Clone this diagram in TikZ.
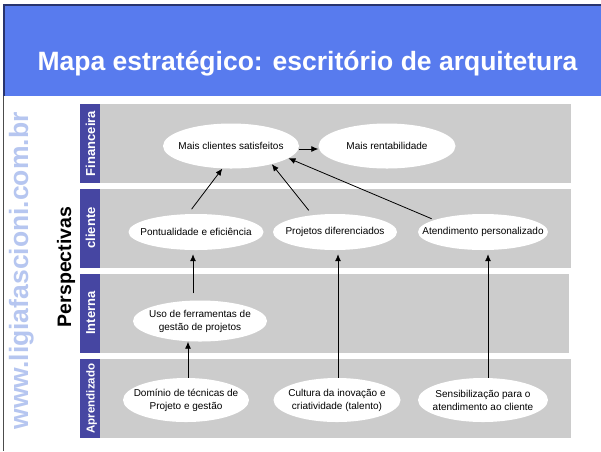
\documentclass[tikz,border=0pt]{standalone}
\usepackage{fontspec}
\setmainfont{Liberation Sans}
\usetikzlibrary{shapes.geometric,arrows.meta}
\definecolor{hdr}{RGB}{88,123,238}
\definecolor{hdrdark}{RGB}{40,52,110}
\definecolor{stripc}{RGB}{70,70,162}
\definecolor{bandc}{RGB}{204,204,204}
\definecolor{wmc}{RGB}{182,198,240}
\begin{document}
\begin{tikzpicture}[x=1pt,y=-1pt,
  goal/.style={ellipse,fill=white,inner sep=0pt},
  goaltxt/.style={align=center,inner sep=0pt,font=\fontsize{10}{13}\selectfont},
  arr/.style={-{Latex[length=7pt,width=6pt]},line width=0.8pt,black},
  bandlab/.style={rotate=90,anchor=base,text=white,font=\fontsize{13}{15}\selectfont\bfseries}
]
\useasboundingbox (0,0) rectangle (601,451);
\fill[white] (0,0) rectangle (601,451);
% header
\fill[hdr] (3.5,4.5) rectangle (601,96);
\draw[hdrdark,line width=2pt] (3.5,96) -- (3.5,4.5) -- (601,4.5);
\draw[gray!60!black,line width=1pt] (3.5,96) -- (3.5,451);
\node[anchor=base,text=white,font=\fontsize{26.5}{30}\selectfont\bfseries] (title) at (307.5,70) {Mapa estratégico: escritório de arquitetura};
% watermark and axis label
\node[rotate=90,anchor=base,text=wmc,font=\fontsize{26.5}{30}\selectfont\bfseries] (wm) at (28,271) {www.ligiafascioni.com.br};
\node[rotate=90,anchor=base,font=\fontsize{19.5}{22}\selectfont\bfseries] (persp) at (71,267) {Perspectivas};
% bands
\fill[bandc] (100,103.5) rectangle (571,183);
\fill[bandc] (100,188.5) rectangle (571,268);
\fill[bandc] (100,273.5) rectangle (569,353);
\fill[bandc] (100,359) rectangle (571,438);
\fill[stripc] (80,103.5) rectangle (100,183);
\fill[stripc] (80,188.5) rectangle (100,268);
\fill[stripc] (80,273.5) rectangle (100,353);
\fill[stripc] (80,359) rectangle (100,438);
\node[bandlab] (lfin) at (95,143.5) {Financeira};
\node[bandlab] (lcli) at (95,228) {cliente};
\node[bandlab] (lint) at (95,313) {Interna};
\node[bandlab,font=\fontsize{11.5}{13}\selectfont\bfseries] (lapr) at (94.5,398.5) {Aprendizado};
% goals
\node[goal,minimum width=136pt,minimum height=45pt,label={[goaltxt]center:Mais clientes satisfeitos}] (sat) at (231,146) {};
\node[goal,minimum width=137pt,minimum height=45pt,label={[goaltxt]center:Mais rentabilidade}] (rent) at (387,146) {};
\node[goal,minimum width=135pt,minimum height=36pt,label={[goaltxt]center:Pontualidade e eficiência}] (pont) at (196,232) {};
\node[goal,minimum width=124pt,minimum height=36pt,label={[goaltxt]center:Projetos diferenciados}] (proj) at (335,232) {};
\node[goal,minimum width=130pt,minimum height=36pt,label={[goaltxt]center:Atendimento personalizado}] (aten) at (483,232) {};
\node[goal,minimum width=134pt,minimum height=41pt,label={[goaltxt]center:Uso de ferramentas de\\gestão de projetos}] (uso) at (200,321) {};
\node[goal,minimum width=126pt,minimum height=44pt,label={[goaltxt]center:Domínio de técnicas de\\Projeto e gestão}] (dom) at (186,400) {};
\node[goal,minimum width=127pt,minimum height=44pt,label={[goaltxt]center:Cultura da inovação e\\criatividade (talento)}] (cult) at (337,400) {};
\node[goal,minimum width=130pt,minimum height=44pt,label={[goaltxt]center:Sensibilização para o\\atendimento ao cliente}] (sens) at (483,400) {};
% connectors
\draw[arr] ([yshift=-3pt]sat.east) -- ([yshift=-3pt]rent.west);
\draw[arr,shorten <=6pt] (pont.114) -- (sat.249);
\draw[arr,shorten <=6pt] (proj.143) -- (sat.336);
\draw[arr,shorten <=3pt] (aten.166) -- (sat.348);
\draw[arr,shorten <=7pt,shorten >=4pt] ([xshift=-7pt]uso.north) -- ([xshift=-3pt]pont.south);
\draw[arr] ([xshift=2pt]dom.north) -- ([xshift=-12pt]uso.south);
\draw[arr,shorten >=4pt] ([xshift=1pt]cult.north) -- ([xshift=3pt]proj.south);
\draw[arr,shorten >=4pt] ([xshift=5pt]sens.north) -- ([xshift=5pt]aten.south);
\end{tikzpicture}
\end{document}
